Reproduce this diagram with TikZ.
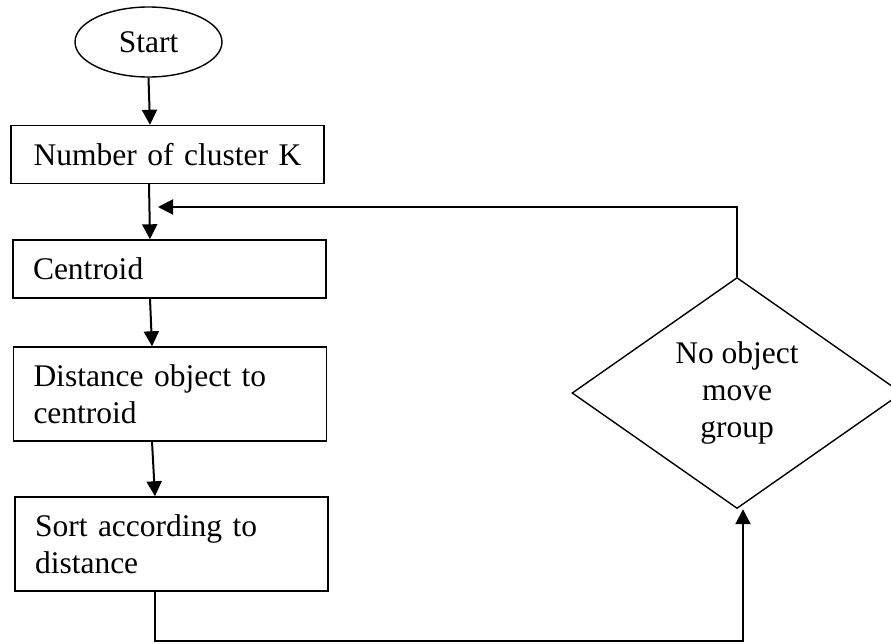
\documentclass[tikz,border=0pt]{standalone}
\usepackage{fontspec}
\setmainfont{Liberation Serif}
\usetikzlibrary{shapes.geometric,arrows.meta}
\tikzset{
  process/.style={rectangle, draw, line width=1.4pt, inner xsep=20pt, inner ysep=0pt,
    text width=273pt, align=left, minimum height=58pt},
  flow/.style={line width=2pt, -{Triangle[length=15pt,width=15pt]}}
}
\newcommand{\fcstart}[3] {\node at (#1) (#2) [ellipse, draw, line width=1.4pt, inner sep=0pt, minimum width=147pt, minimum height=70pt] {#3};}
\newcommand{\fcprocess}[4][] {\node at (#2) (#3) [process, #1] {#4};}
\newcommand{\fcdecision}[3] {\node at (#1) (#2) [diamond, draw, line width=1.4pt, aspect=1.43, inner sep=0pt, minimum width=330pt, minimum height=231pt, align=center] {#3};}
\newcommand{\fcflow}[2] {\draw [flow] (#1) -- (#2);}

\begin{document}
\begin{tikzpicture}[x=1pt, y=-1pt, font=\fontsize{31.5}{37}\selectfont]
\useasboundingbox (0,0) rectangle (891,643);
\fcstart {148.5,42} {start} {Start};
\fcprocess[align=center] {167.5,154.5} {ncl} {Number of cluster K};
\fcprocess {169.5,269} {cent} {Centroid};
\fcprocess[minimum height=94pt] {170,394} {dist} {Distance object to\\centroid};
\fcprocess[minimum height=94pt] {171.5,544} {sort} {Sort according to\\distance};
\fcdecision {737,393} {move} {No object\\move\\group};
\coordinate (loop) at (158,207);

\fcflow {start.south} {[xshift=-17.5pt]ncl.north};
\fcflow {[xshift=-18.5pt]ncl.south} {[xshift=-19.5pt]cent.north};
\fcflow {[xshift=-19.5pt]cent.south} {[xshift=-18pt]dist.north};
\fcflow {[xshift=-18pt]dist.south} {[xshift=-16.5pt]sort.north};

\draw [flow] ([xshift=-16.5pt]sort.south) -- ++(0,49) -| ([xshift=6pt]move.south);
\draw [flow] (move.north) |- (loop);
\end{tikzpicture}
\end{document}
